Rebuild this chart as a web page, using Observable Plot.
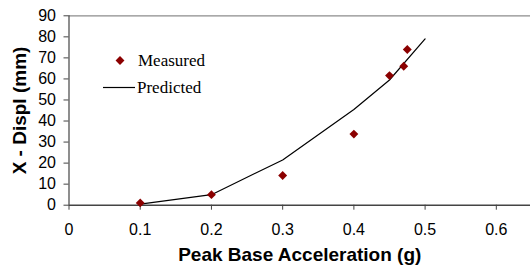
<!DOCTYPE html>
<html><head>
<meta charset="utf-8">
<script src="https://cdn.jsdelivr.net/npm/d3@7"></script>
<script src="https://cdn.jsdelivr.net/npm/@observablehq/plot@0.6"></script>
<style>
body{margin:0;background:#fff}
#chart{position:relative;width:530px;height:272px}
</style>
</head><body><div id="chart"></div>
<script>
const measuredX = [0.1, 0.2, 0.3, 0.4, 0.45, 0.47, 0.475];
const measuredY = [1.1, 5, 14.1, 33.8, 61.6, 66, 74];
const predictedX = [0.1, 0.2, 0.3, 0.4, 0.45, 0.5];
const predictedY = [0.5, 5, 21.5, 45.5, 59.5, 79];
const xTicks = [0, 0.1, 0.2, 0.3, 0.4, 0.5, 0.6];
const yTicks = [0, 10, 20, 30, 40, 50, 60, 70, 80, 90];
const seriesNames = ["Measured", "Predicted"];
const xTitle = "Peak Base Acceleration (g)";
const yTitle = "X - Displ (mm)";

const measured = measuredX.map((x, i) => ({x, y: measuredY[i]}));
const predicted = predictedX.map((x, i) => ({x, y: predictedY[i]}));
const sans = "'Liberation Sans', Arial, sans-serif";
const serif = "'Liberation Serif', 'Times New Roman', serif";

const chart = Plot.plot({
  width: 530,
  height: 272,
  marginLeft: 68.5,
  marginRight: 0,
  marginTop: 15.3,
  marginBottom: 67.3,
  style: {fontFamily: sans, fontSize: "16px", color: "#000", background: "#fff"},
  x: {domain: [0, 0.648]},
  y: {domain: [0, 90]},
  marks: [
    Plot.ruleY([90], {stroke: "#8c8c8c", strokeWidth: 1.2}),
    Plot.ruleX([0], {stroke: "#444", strokeWidth: 1.2}),
    Plot.ruleY([0], {stroke: "#444", strokeWidth: 1.5}),
    Plot.axisX({ticks: xTicks, tickSize: 5, tickPadding: 13, tickFormat: d => String(d), stroke: "#444", label: null, fontFamily: sans}),
    Plot.axisY({ticks: yTicks, tickSize: 5, tickPadding: 8, stroke: "#444", label: null, fontFamily: sans}),
    Plot.line(predicted, {x: "x", y: "y", stroke: "#000", strokeWidth: 1.2}),
    Plot.dot(measured, {x: "x", y: "y", symbol: "diamond2", r: 4, fill: "#8b0000", stroke: "none"}),
    Plot.text([xTitle], {text: d => d, frameAnchor: "bottom", lineAnchor: "middle", dy: 50, fontWeight: "bold", fontSize: 19, fontFamily: sans}),
    Plot.text([yTitle], {text: d => d, frameAnchor: "left", textAnchor: "middle", lineAnchor: "middle", rotate: -90, dx: -49.5, fontWeight: "bold", fontSize: 19, fontFamily: sans}),
    Plot.dot([seriesNames[0]], {frameAnchor: "top-left", dx: 51, dy: 44.7, symbol: "diamond2", r: 4, fill: "#8b0000", stroke: "none"}),
    Plot.text([seriesNames[0]], {text: d => d, frameAnchor: "top-left", dx: 69, dy: 44.7, textAnchor: "start", lineAnchor: "middle", fontFamily: serif, fontSize: 17}),
    Plot.text([seriesNames[1]], {text: d => d, frameAnchor: "top-left", dx: 68, dy: 72, textAnchor: "start", lineAnchor: "middle", fontFamily: serif, fontSize: 17})
  ]
});
document.getElementById("chart").appendChild(chart);
// legend line sample
d3.select(chart).append("line")
  .attr("x1", 103).attr("x2", 135).attr("y1", 87.5).attr("y2", 87.5)
  .attr("stroke", "#000").attr("stroke-width", 1.2);
</script>
</body></html>
